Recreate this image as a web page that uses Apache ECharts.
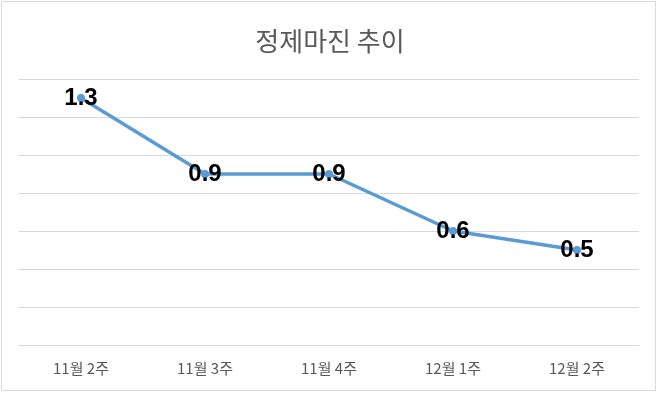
<!DOCTYPE html>
<html>
<head>
<meta charset="utf-8">
<script src="https://cdn.jsdelivr.net/npm/echarts@6/dist/echarts.min.js"></script>
<style>
html,body{margin:0;padding:0;background:#fff;}
#frame{position:absolute;left:1px;top:1px;width:653px;height:388px;border:1px solid #d9d9d9;}
#chart{position:absolute;left:0;top:0;width:660px;height:394px;}
</style>
</head>
<body>
<div id="frame"></div>
<div id="chart"></div>
<script>
const titleText = '정제마진 추이';
const categories = ['11월 2주', '11월 3주', '11월 4주', '12월 1주', '12월 2주'];
const values = [1.3, 0.9, 0.9, 0.6, 0.5];
const yMin = 0, yMax = 1.4, yStep = 0.2;

const chart = echarts.init(document.getElementById('chart'), null, {renderer: 'canvas'});
chart.setOption({
  animation: false,
  backgroundColor: 'transparent',
  title: {
    text: titleText,
    left: 'center',
    top: 23,
    textStyle: {fontFamily: 'Noto Sans CJK KR', fontSize: 26, fontWeight: 'normal', color: '#595959'}
  },
  grid: {left: 19, right: 21, top: 79, bottom: 49, containLabel: false},
  xAxis: {
    type: 'category',
    data: categories,
    boundaryGap: true,
    axisLine: {show: true, lineStyle: {color: '#d9d9d9', width: 1}},
    axisTick: {show: false},
    axisLabel: {margin: 16, fontFamily: 'Noto Sans CJK KR', fontSize: 15, color: '#595959'}
  },
  yAxis: {
    type: 'value',
    min: yMin, max: yMax, interval: yStep,
    axisLine: {show: false},
    axisTick: {show: false},
    axisLabel: {show: false},
    splitLine: {show: true, lineStyle: {color: '#d9d9d9', width: 1}}
  },
  series: [{
    type: 'line',
    data: values,
    symbol: 'circle',
    symbolSize: 8,
    lineStyle: {color: '#5b9bd5', width: 3.5},
    itemStyle: {color: '#5b9bd5'},
    label: {
      show: true,
      position: 'inside',
      fontFamily: 'Liberation Sans',
      fontWeight: 'bold',
      fontSize: 24,
      color: '#000'
    }
  }]
});
</script>
</body>
</html>
